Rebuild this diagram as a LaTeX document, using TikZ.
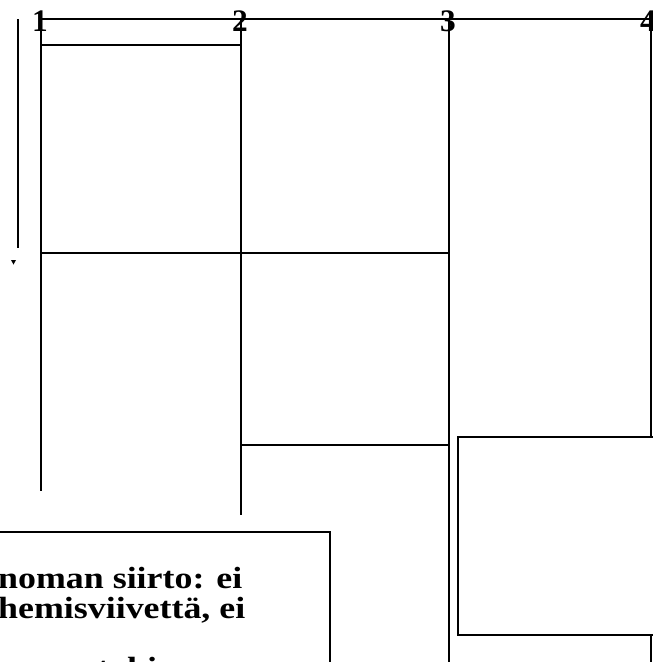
\documentclass[tikz,border=0pt]{standalone}
\usepackage{fontspec}
\setmainfont{Liberation Serif}
\usetikzlibrary{arrows.meta}

\begin{document}
\begin{tikzpicture}[x=0.75pt,y=-0.75pt,line width=1.5pt,
  colnum/.style={font=\fontsize{23.5}{23.5}\selectfont\bfseries,inner sep=0pt},
  boxline/.style={font=\fontsize{23}{24}\selectfont\bfseries,inner sep=0pt,anchor=base west,xscale=1.17}]
\useasboundingbox (0,0) rectangle (653,662);
\clip (0,0) rectangle (653,662);

\def\xA{41}
\def\xB{241}
\def\xC{449}
\def\xD{651}
\def\yTop{19}

% top rule and column numbers
\draw (\xA,\yTop) -- (653,\yTop);
\node[colnum] (n1) at (40,21.5) {1};
\node[colnum] (n2) at (240,21.5) {2};
\node[colnum] (n3) at (448,21.5) {3};
\node[colnum] (n4) at (648,21.5) {4};

% side marker
\draw (18,\yTop) -- (18,248);
\fill (11,260) -- (16,260) -- (13.5,264.5) -- cycle;

% columns
\draw (\xA,\yTop) -- (\xA,491);
\draw (\xB,\yTop) -- (\xB,515);
\draw (\xC,\yTop) -- (\xC,662);
\draw (\xD,\yTop) -- (\xD,437);
\draw (\xD,635) -- (\xD,662);

\draw (\xA,45) -- (\xB,45);
\draw (\xA,253) -- (\xC,253);
\draw (\xB,445) -- (\xC,445);

% boxes
\draw[fill=white] (458,437) rectangle (670,635);
\draw[fill=white] (-10,532) rectangle (330,700);

\node[boxline] (t1) at (-3,588) {noman siirto: ei};
\node[boxline] (t2) at (-3,618) {hemisviivettä, ei};
\node[boxline] (t3) at (-3,678) {suurestakin};

\end{tikzpicture}
\end{document}
